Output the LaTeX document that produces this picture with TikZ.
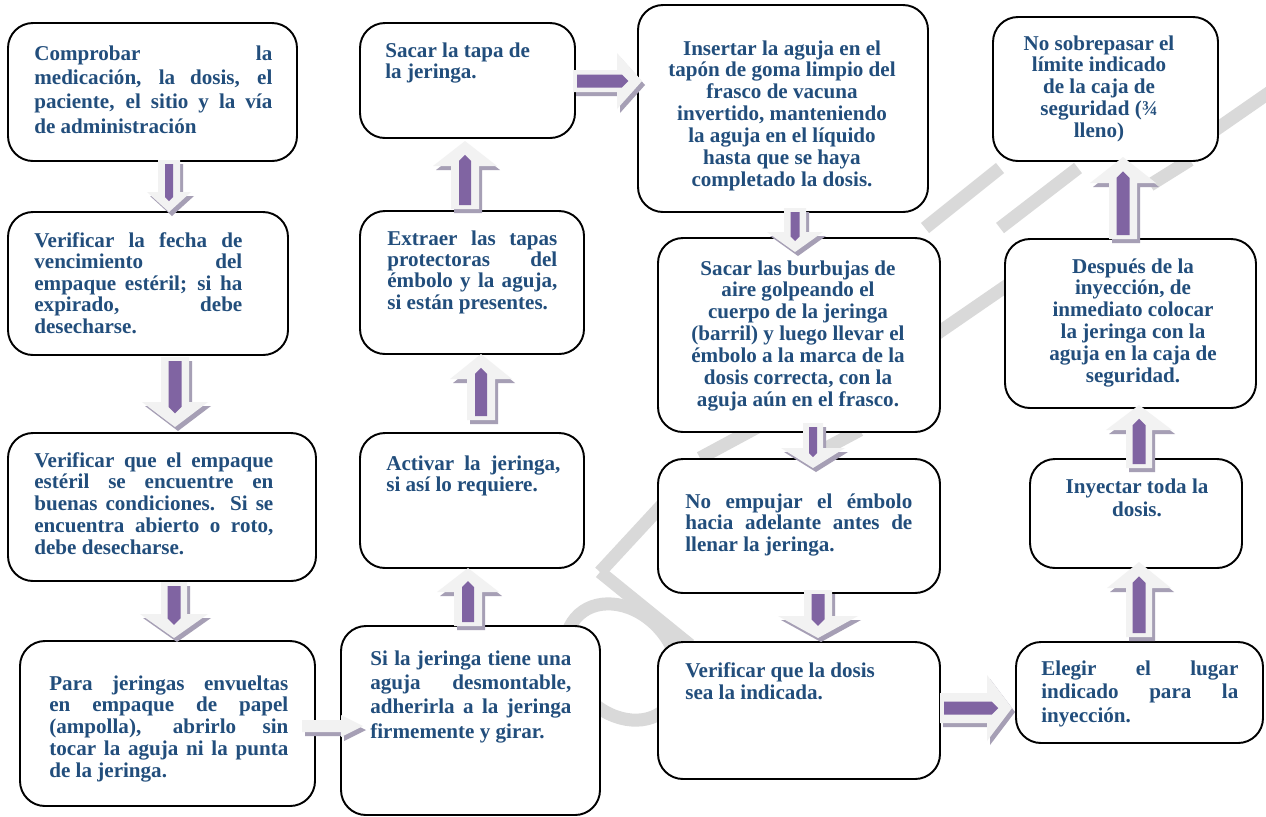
\documentclass[tikz,border=0pt]{standalone}
\usepackage{fontspec}
\setmainfont{Liberation Serif}
\usetikzlibrary{fit,calc}
\definecolor{txtblue}{RGB}{34,78,124}
\definecolor{arrlight}{HTML}{F2F2F2}
\definecolor{arrshade}{HTML}{A69FB5}
\definecolor{arrpurple}{HTML}{8064A2}
\definecolor{wmark}{HTML}{D9D9D9}
\newdimen\pxu \pxu=0.02cm
\newcommand\jl[1]{\makebox[\linewidth][s]{#1}}
% #1 angle, #2 x, #3 y, #4 length, #5 shaft width, #6 head width, #7 head length, #8 inner width
\newcommand\blockarr[8]{%
  \fill[arrshade, shift={({#2+3},{#3+4})}, rotate=#1]
    (0,{-#5/2}) -- ({#4-#7},{-#5/2}) -- ({#4-#7},{-#6/2}) -- (#4,0) -- ({#4-#7},{#6/2}) -- ({#4-#7},{#5/2}) -- (0,{#5/2}) -- cycle;
  \fill[arrlight, shift={(#2,#3)}, rotate=#1]
    (0,{-#5/2}) -- ({#4-#7},{-#5/2}) -- ({#4-#7},{-#6/2}) -- (#4,0) -- ({#4-#7},{#6/2}) -- ({#4-#7},{#5/2}) -- (0,{#5/2}) -- cycle;
  \ifnum#8>0
  \fill[arrpurple, shift={(#2,#3)}, rotate=#1]
    (4,{-#8/2}) -- ({#4-0.55*#7-#8/2},{-#8/2}) -- ({#4-0.55*#7},0) -- ({#4-0.55*#7-#8/2},{#8/2}) -- (4,{#8/2}) -- cycle;
  \fi
}
\tikzset{
  box/.style={draw=black, line width=1.1pt, rounded corners=0.5cm, fill=white, inner sep=0pt},
  txt/.style={text=txtblue, inner sep=0pt, font=\bfseries\fontsize{12pt}{12.5pt}\selectfont},
  wm/.style={draw=wmark, line width=0.26cm},
}
\begin{document}
\begin{tikzpicture}[x=0.02cm, y=-0.02cm]
\useasboundingbox (0,0) rectangle (1266,816);
\fill[white] (0,0) rectangle (1266,816);

% watermark strokes (behind the boxes)
\draw[wm, rotate around={42:(622,662)}] (622,662) ellipse [x radius=50, y radius=64];
\draw[wm] (600,572) -- (690,645);
\draw[wm] (600,572) -- (662,505);
\draw[wm] (700,458) -- (765,423);
\draw[wm] (800,462) -- (860,430);
\draw[wm] (935,335) -- (1012,282);
\draw[wm] (925,228) -- (1000,168);
\draw[wm] (1000,228) -- (1078,168);
\draw[wm] (1150,185) -- (1190,160);
\draw[wm] (1208,135) -- (1270,92);

% boxes
\node[box, fit={(8,23) (297,161)}] (b1) {};
\node[box, fit={(8,212) (288,355)}] (b2) {};
\node[box, fit={(8,433) (316,581)}] (b3) {};
\node[box, fit={(20,641) (315,806)}] (b4) {};
\node[box, fit={(341,626) (600,815)}] (b5) {};
\node[box, fit={(360,433) (584,568)}] (b6) {};
\node[box, fit={(360,211) (584,354)}] (b7) {};
\node[box, fit={(360,23) (575,138)}] (b8) {};
\node[box, fit={(638,5) (928,212)}] (b9) {};
\node[box, fit={(658,238) (940,432)}] (b10) {};
\node[box, fit={(658,459) (940,593)}] (b11) {};
\node[box, fit={(658,642) (940,779)}] (b12) {};
\node[box, fit={(1016,642) (1263,743)}] (b13) {};
\node[box, fit={(1030,459) (1242,568)}] (b14) {};
\node[box, fit={(1005,239) (1256,408)}] (b15) {};
\node[box, fit={(993,17) (1218,161)}] (b16) {};

% texts
\node[txt, anchor=base west] (t1) at (34,60) {\fontsize{12pt}{13.9pt}\selectfont\parbox[t]{238\pxu}{\jl{Comprobar la}\\\jl{medicación, la dosis, el}\\\jl{paciente, el sitio y la vía}\\de administración}};
\node[txt, anchor=base west] (t2) at (34,247) {\fontsize{12pt}{12.3pt}\selectfont\parbox[t]{208\pxu}{\jl{Verificar la fecha de}\\\jl{vencimiento del}\\\jl{empaque estéril; si ha}\\\jl{expirado, debe}\\desecharse.}};
\node[txt, anchor=base west] (t3) at (34,467) {\parbox[t]{239\pxu}{\jl{Verificar que el empaque}\\\jl{estéril se encuentre en}\\\jl{buenas condiciones. Si se}\\\jl{encuentra abierto o roto,}\\debe desecharse.}};
\node[txt, anchor=base west] (t4) at (49,690) {\parbox[t]{239\pxu}{\jl{Para jeringas envueltas}\\\jl{en empaque de papel}\\\jl{(ampolla), abrirlo sin}\\\jl{tocar la aguja ni la punta}\\de la jeringa.}};
\node[txt, anchor=base west] (t5) at (370,665) {\fontsize{12pt}{13.9pt}\selectfont\parbox[t]{201\pxu}{\jl{Si la jeringa tiene una}\\\jl{aguja desmontable,}\\\jl{adherirla a la jeringa}\\firmemente y girar.}};
\node[txt, anchor=base west] (t6) at (386,470) {\fontsize{12pt}{12pt}\selectfont\parbox[t]{174\pxu}{\jl{Activar la jeringa,}\\si así lo requiere.}};
\node[txt, anchor=base west] (t7) at (387,245) {\fontsize{12pt}{12.2pt}\selectfont\parbox[t]{170\pxu}{\jl{Extraer las tapas}\\\jl{protectoras del}\\\jl{émbolo y la aguja,}\\si están presentes.}};
\node[txt, anchor=base west] (t8) at (385,57) {\fontsize{12pt}{12.1pt}\selectfont\parbox[t]{170\pxu}{Sacar la tapa de\\la jeringa.}};
\node[txt, anchor=base] (t9) at (782,55) {\parbox[t]{280\pxu}{\centering Insertar la aguja en el\\tapón de goma limpio del\\frasco de vacuna\\invertido, manteniendo\\la aguja en el líquido\\hasta que se haya\\completado la dosis.}};
\node[txt, anchor=base] (t10) at (798,275) {\parbox[t]{270\pxu}{\centering Sacar las burbujas de\\aire golpeando el\\cuerpo de la jeringa\\(barril) y luego llevar el\\émbolo a la marca de la\\dosis correcta, con la\\aguja aún en el frasco.}};
\node[txt, anchor=base west] (t11) at (685,508) {\fontsize{12pt}{12.4pt}\selectfont\parbox[t]{227\pxu}{\jl{No empujar el émbolo}\\\jl{hacia adelante antes de}\\llenar la jeringa.}};
\node[txt, anchor=base west] (t12) at (685,677) {\fontsize{12pt}{13pt}\selectfont\parbox[t]{227\pxu}{Verificar que la dosis\\sea la indicada.}};
\node[txt, anchor=base west] (t13) at (1041,675) {\fontsize{12pt}{13.6pt}\selectfont\parbox[t]{197\pxu}{\jl{Elegir el lugar}\\\jl{indicado para la}\\inyección.}};
\node[txt, anchor=base] (t14) at (1137,493) {\fontsize{12pt}{13.6pt}\selectfont\parbox[t]{200\pxu}{\centering Inyectar toda la\\dosis.}};
\node[txt, anchor=base] (t15) at (1133,273) {\parbox[t]{230\pxu}{\centering Después de la\\inyección, de\\inmediato colocar\\la jeringa con la\\aguja en la caja de\\seguridad.}};
\node[txt, anchor=base] (t16) at (1099,50) {\fontsize{12pt}{12.4pt}\selectfont\parbox[t]{210\pxu}{\centering No sobrepasar el\\límite indicado\\de la caja de\\seguridad (¾\\lleno)}};

% block arrows
\blockarr{-90}{169}{160}{52}{22}{44}{20}{8}
\blockarr{-90}{175}{357}{70}{28}{66}{25}{13}
\blockarr{-90}{174}{582}{56}{26}{68}{24}{13}
\blockarr{0}{302}{726}{61}{12}{22}{22}{0}
\blockarr{90}{468}{626}{58}{28}{62}{24}{12}
\blockarr{90}{481}{420}{66}{28}{62}{25}{12}
\blockarr{90}{465}{209}{68}{28}{64}{25}{12}
\blockarr{0}{573}{81}{69}{22}{56}{25}{13}
\blockarr{-90}{795}{208}{44}{22}{56}{20}{9}
\blockarr{-90}{813}{423}{45}{20}{64}{20}{8}
\blockarr{-90}{818}{590}{48}{28}{80}{22}{13}
\blockarr{0}{940}{708}{72}{30}{66}{25}{13}
\blockarr{90}{1139}{637}{75}{26}{64}{26}{13}
\blockarr{90}{1139}{468}{63}{26}{66}{25}{13}
\blockarr{90}{1123}{239}{82}{28}{66}{26}{13}
\end{tikzpicture}
\end{document}
